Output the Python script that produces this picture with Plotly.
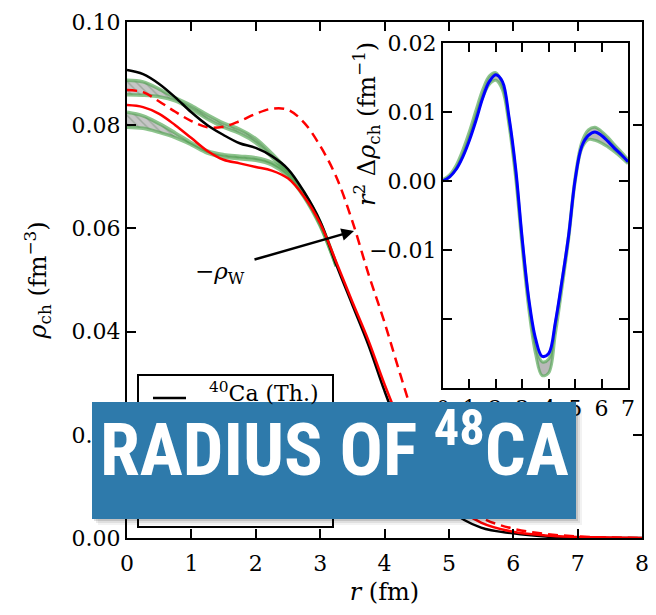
import plotly.graph_objects as go

# ---------------- data ----------------
r_main = [0, 0.25, 0.5, 0.75, 1.0, 1.25, 1.5, 1.75, 2.0, 2.25, 2.5, 2.75, 3.0,
          3.25, 3.5, 3.75, 4.0, 4.25, 4.5, 4.75, 5.0, 5.5, 6.0, 6.5, 7.0, 7.5, 8.0]
rho_ca40_th = [0.0907, 0.0899, 0.0880, 0.0854, 0.0825, 0.0800, 0.0781, 0.0765, 0.0756,
               0.0740, 0.0715, 0.0671, 0.0614, 0.0530, 0.0452, 0.0374, 0.0285, 0.0205,
               0.0140, 0.0090, 0.0055, 0.0020, 0.0009, 0.0003, 0.0001, 0.0, 0.0]
rho_ca48_th = [0.0839, 0.0835, 0.0822, 0.0800, 0.0775, 0.0750, 0.0733, 0.0726, 0.0719,
               0.0712, 0.0697, 0.0662, 0.0610, 0.0535, 0.0458, 0.0383, 0.0298, 0.0222,
               0.0160, 0.0110, 0.0072, 0.0030, 0.0012, 0.0005, 0.0002, 0.0001, 0.0]
rho_weak_ca48 = [0.0868, 0.0864, 0.0846, 0.0826, 0.0808, 0.0796, 0.0797, 0.0808, 0.0822,
                 0.0832, 0.0830, 0.0805, 0.0760, 0.0700, 0.0614, 0.0512, 0.0418, 0.0315,
                 0.0218, 0.0142, 0.0090, 0.0040, 0.0018, 0.0008, 0.0003, 0.0001, 0.0]

r_band = [0, 0.25, 0.5, 0.75, 1.0, 1.25, 1.5, 1.75, 2.0, 2.25, 2.5, 2.75, 3.0, 3.25]
band_ca40_hi = [0.0887, 0.0884, 0.0870, 0.0853, 0.0838, 0.0820, 0.0804, 0.0792, 0.0774,
                0.0745, 0.0711, 0.0668, 0.0612, 0.0530]
band_ca40_lo = [0.0859, 0.0858, 0.0855, 0.0847, 0.0831, 0.0812, 0.0796, 0.0784, 0.0766,
                0.0738, 0.0705, 0.0663, 0.0607, 0.0527]
band_ca48_hi = [0.0825, 0.0818, 0.0803, 0.0785, 0.0766, 0.0750, 0.0743, 0.0740, 0.0737,
                0.0728, 0.0706, 0.0666, 0.0610, 0.0530]
band_ca48_lo = [0.0796, 0.0794, 0.0786, 0.0776, 0.0762, 0.0746, 0.0738, 0.0735, 0.0732,
                0.0723, 0.0701, 0.0661, 0.0605, 0.0527]

r_inset = [0, 0.25, 0.5, 0.75, 1.0, 1.25, 1.5, 1.75, 2.0, 2.25, 2.5, 2.75, 3.0, 3.25,
           3.5, 3.75, 4.0, 4.25, 4.5, 4.75, 5.0, 5.25, 5.5, 5.75, 6.0, 6.25, 6.5, 6.75, 7.0]
r2_drho_th = [0.0, 0.0006, 0.0017, 0.0035, 0.0059, 0.0088, 0.0120, 0.0144, 0.0154,
              0.0144, 0.0092, 0.0018, -0.0085, -0.0172, -0.0228, -0.0254, -0.0250,
              -0.0205, -0.0145, -0.0080, 0.0002, 0.0050, 0.0066, 0.0071, 0.0066,
              0.0057, 0.0047, 0.0038, 0.0028]
r2_drho_hi = [0.0002, 0.0009, 0.0023, 0.0045, 0.0072, 0.0103, 0.0132, 0.0152, 0.0157,
              0.0140, 0.0088, 0.0012, -0.0088, -0.0175, -0.0236, -0.0262, -0.0258,
              -0.0208, -0.0146, -0.0078, 0.0006, 0.0056, 0.0074, 0.0078, 0.0072,
              0.0063, 0.0052, 0.0042, 0.0031]
r2_drho_lo = [0.0, 0.0006, 0.0018, 0.0037, 0.0062, 0.0092, 0.0121, 0.0140, 0.0146,
              0.0132, 0.0080, 0.0004, -0.0098, -0.0187, -0.0250, -0.0282, -0.0278,
              -0.0222, -0.0156, -0.0086, -0.0002, 0.0047, 0.0060, 0.0059, 0.0055,
              0.0049, 0.0042, 0.0034, 0.0025]

main_x_ticks = [0, 1, 2, 3, 4, 5, 6, 7, 8]
main_y_ticks = [0.0, 0.02, 0.04, 0.06, 0.08, 0.10]
main_y_labels = ["0.00", "0.02", "0.04", "0.06", "0.08", "0.10"]
inset_x_ticks = [0, 1, 2, 3, 4, 5, 6, 7]
inset_y_ticks = [-0.02, -0.01, 0.0, 0.01, 0.02]
inset_y_labels = [" ", "\u22120.01", "0.00", "0.01", "0.02"]

legend_label = "<sup>40</sup>Ca (Th.)"
weak_label = "\u2212<i>\u03c1</i><sub>W</sub>"
banner_text = "RADIUS OF <sup>48</sup>CA"

# ---------------- styling ----------------
SERIF = "DejaVu Serif"
GREEN = "rgba(80,165,80,0.65)"
OFF = 8                      # page body margin
W, H = 646, 615 - 2 * OFF
# plot area in page pixels: x 127..642, y 22..538
L, T = 127 - OFF, 22 - OFF
PW, PH = 515, 516
R, B = W - L - PW, H - T - PH


def px(x):      # page x pixel -> paper
    return (x - 127) / PW


def py(y):      # page y pixel -> paper
    return (538 - y) / PH


fig = go.Figure()

for lo, hi in [(band_ca40_lo, band_ca40_hi), (band_ca48_lo, band_ca48_hi)]:
    fig.add_trace(go.Scatter(x=r_band, y=lo, mode="lines", line=dict(color=GREEN, width=3.5),
                             line_shape="spline", showlegend=False, hoverinfo="skip"))
    fig.add_trace(go.Scatter(x=r_band, y=hi, mode="lines", line=dict(color=GREEN, width=3.5),
                             line_shape="spline", fill="tonexty",
                             fillcolor="rgb(200,200,200)",
                             fillpattern=dict(shape="\\", bgcolor="rgb(198,198,198)",
                                              fgcolor="rgb(120,140,120)", size=6, solidity=0.25),
                             showlegend=False, hoverinfo="skip"))

fig.add_trace(go.Scatter(x=r_main, y=rho_weak_ca48, mode="lines", line_shape="spline",
                         line=dict(color="#ff0000", width=2.5, dash="10px,6px"),
                         name="-rho_W", showlegend=False))
fig.add_trace(go.Scatter(x=r_main, y=rho_ca40_th, mode="lines", line_shape="spline",
                         line=dict(color="black", width=2.5), name="40Ca (Th.)", showlegend=False))
fig.add_trace(go.Scatter(x=r_main, y=rho_ca48_th, mode="lines", line_shape="spline",
                         line=dict(color="#ff0000", width=2.5), name="48Ca (Th.)", showlegend=False))

fig.add_trace(go.Scatter(x=r_inset, y=r2_drho_lo, xaxis="x2", yaxis="y2", mode="lines",
                         line_shape="spline", line=dict(color=GREEN, width=3),
                         showlegend=False, hoverinfo="skip"))
fig.add_trace(go.Scatter(x=r_inset, y=r2_drho_hi, xaxis="x2", yaxis="y2", mode="lines",
                         line_shape="spline", line=dict(color=GREEN, width=3),
                         fill="tonexty", fillcolor="rgb(185,185,185)",
                         showlegend=False, hoverinfo="skip"))
fig.add_trace(go.Scatter(x=r_inset, y=r2_drho_th, xaxis="x2", yaxis="y2", mode="lines",
                         line_shape="spline", line=dict(color="#0000ff", width=3),
                         showlegend=False))

axis_common = dict(showline=True, linecolor="black", linewidth=2, mirror="ticks",
                   ticks="inside", tickcolor="black", tickwidth=1.5, ticklen=9,
                   showgrid=False, zeroline=False, automargin=False,
                   tickfont=dict(family=SERIF, size=22, color="black"))

fig.update_layout(
    width=W, height=H,
    margin=dict(l=L, r=R, t=T, b=B),
    paper_bgcolor="white", plot_bgcolor="white",
    font=dict(family=SERIF, color="black"),
    showlegend=False,
    xaxis=dict(axis_common, range=[0, 8], tickvals=main_x_ticks, domain=[0, 1],
               ticklabelstandoff=5,
               title=dict(text="<i>r</i> (fm)", font=dict(family=SERIF, size=24, color="black"),
                          standoff=8)),
    yaxis=dict(axis_common, range=[0, 0.10], tickvals=main_y_ticks, ticktext=main_y_labels,
               domain=[0, 1],
               title=dict(text="<i>\u03c1</i><sub>ch</sub> (fm<sup>\u22123</sup>)",
                          font=dict(family=SERIF, size=24, color="black"), standoff=18)),
    xaxis2=dict(axis_common, range=[0, 7], tickvals=inset_x_ticks, anchor="y2",
                domain=[px(443), px(628)]),
    yaxis2=dict(axis_common, range=[-0.03, 0.02], tickvals=inset_y_ticks,
                ticktext=inset_y_labels, anchor="x2", domain=[py(388), py(43)]),
)

shapes = []
shapes.append(dict(type="rect", xref="paper", yref="paper", x0=px(138), x1=px(333),
                   y0=py(527), y1=py(375), line=dict(color="black", width=2),
                   fillcolor="white", layer="above"))
shapes.append(dict(type="line", xref="paper", yref="paper", x0=px(153), x1=px(186),
                   y0=py(398), y1=py(398), line=dict(color="black", width=2.5), layer="above"))
for d, a in [(6, 0.05), (4, 0.08), (2, 0.12)]:
    shapes.append(dict(type="rect", xref="paper", yref="paper", x0=px(92 + d), x1=px(576 + d),
                       y0=py(519 + d), y1=py(402 + d), line=dict(width=0),
                       fillcolor="rgba(0,0,0,%g)" % a, layer="above"))
shapes.append(dict(type="rect", xref="paper", yref="paper", x0=px(92), x1=px(576),
                   y0=py(519), y1=py(402), line=dict(width=0),
                   fillcolor="rgb(46,122,171)", layer="above"))
fig.update_layout(shapes=shapes)

annotations = [
    dict(xref="paper", yref="paper", x=px(207), y=py(392), xanchor="left", yanchor="middle",
         text=legend_label, showarrow=False, font=dict(family=SERIF, size=22, color="black")),
    dict(xref="x", yref="y", x=(220 - 127) / 64.375, y=(538 - 273) / 5160.0, text=weak_label,
         showarrow=False, font=dict(family=SERIF, size=23, color="black")),
    dict(xref="x", yref="y", x=(354 - 127) / 64.375, y=(538 - 231) / 5160.0,
         axref="x", ayref="y", ax=(253 - 127) / 64.375, ay=(538 - 260) / 5160.0,
         text="", showarrow=True, arrowhead=2, arrowsize=1, arrowwidth=2.5,
         arrowcolor="black", standoff=0, startstandoff=0),
    dict(xref="paper", yref="paper", x=px(366), y=py(124), xanchor="center", yanchor="middle",
         textangle=-90, showarrow=False,
         text="<i>r</i><sup>2</sup> \u0394<i>\u03c1</i><sub>ch</sub> (fm<sup>\u22121</sup>)",
         font=dict(family=SERIF, size=24, color="black")),
    dict(xref="paper", yref="paper", x=px(334), y=py(445), xanchor="center", yanchor="middle",
         text=banner_text, showarrow=False,
         font=dict(family="Roboto Condensed, Liberation Sans Narrow, Arial Narrow, DejaVu Sans Condensed, sans-serif",
                   size=72, color="white", weight="bold")),
]
fig.update_layout(annotations=annotations)

fig.write_html("out.html")
